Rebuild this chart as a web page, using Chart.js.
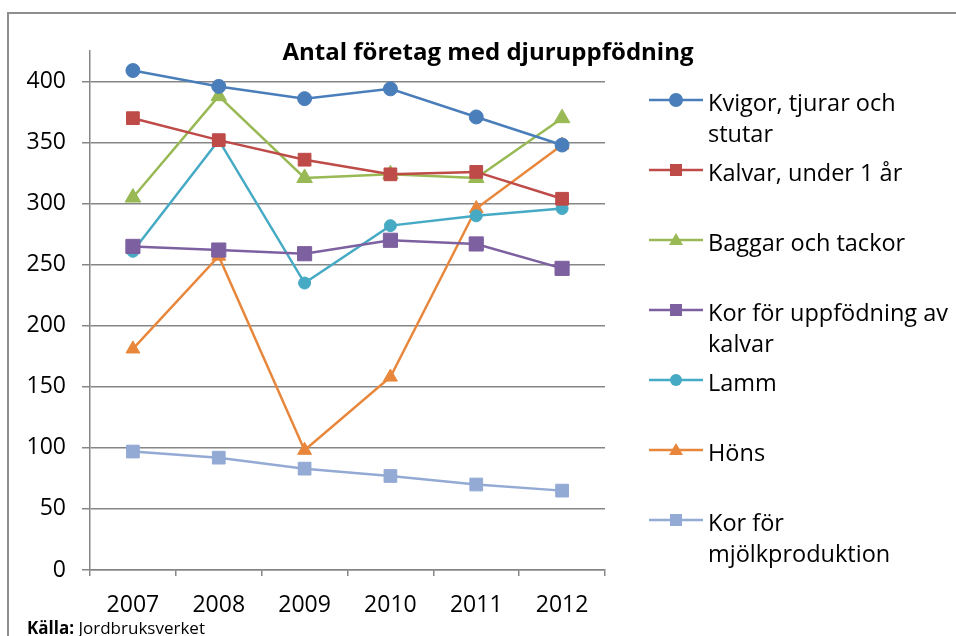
<!DOCTYPE html>
<html>
<head>
<meta charset="utf-8">
<script src="https://cdn.jsdelivr.net/npm/chart.js@4"></script>
<style>
  body { margin:0; background:#fff; font-family:"Open Sans", sans-serif; }
  #wrap { position:relative; width:956px; height:636px; overflow:hidden; }
  #frame { position:absolute; left:7px; top:12px; width:1000px; height:700px; border:2px solid #8e8e8e; }
  #chart { position:absolute; left:0; top:0; }
  #title { position:absolute; left:488px; top:34px; transform:translateX(-50%); font-weight:bold; font-size:24px; white-space:nowrap; color:#000; }
  #legend { position:absolute; left:0; top:0; }
  .item { position:absolute; left:649px; font-size:23.5px; line-height:31px; color:#000; }
  .item svg { position:absolute; left:0; top:0; }
  .item span { position:absolute; left:59px; top:2px; white-space:nowrap; }
  #src { position:absolute; left:27px; top:616px; font-size:17px; color:#000; white-space:nowrap; }
</style>
</head>
<body>
<div id="wrap">
  <div id="frame"></div>
  <canvas id="chart" width="956" height="636"></canvas>
  <div id="title">Antal företag med djuruppfödning</div>
  <div id="legend"></div>
  <div id="src"><b>Källa:</b> Jordbruksverket</div>
</div>
<script>
var years = ['2007','2008','2009','2010','2011','2012'];
var names = [
  ['Kvigor, tjurar och','stutar'],
  ['Kalvar, under 1 år'],
  ['Baggar och tackor'],
  ['Kor för uppfödning av','kalvar'],
  ['Lamm'],
  ['Höns'],
  ['Kor för','mjölkproduktion']
];
var kvigor  = [409, 396, 386, 394, 371, 348];
var kalvar  = [370, 352, 336, 324, 326, 304];
var baggar  = [305, 388, 321, 324, 321, 370];
var korUppf = [265, 262, 259, 270, 267, 247];
var lamm    = [261, 352, 235, 282, 290, 296];
var hons    = [181, 257, 98, 158, 296, 348];
var korMjolk = [97, 92, 83, 77, 70, 65];

var series = [kvigor, kalvar, baggar, korUppf, lamm, hons, korMjolk];
var colors = ['#4A7EBB','#BE4B48','#98B954','#7D60A0','#46AAC5','#E8873B','#93AAD4'];
var shapes = ['circle','rect','triangle','rect','circle','triangle','rect'];
var radii  = [7, 9, 9, 10, 6, 8, 9];

var datasets = series.map(function(d, i){
  return {
    label: names[i].join(' '),
    data: d,
    borderColor: colors[i],
    backgroundColor: colors[i],
    pointBackgroundColor: colors[i],
    pointBorderColor: colors[i],
    pointStyle: shapes[i],
    pointRadius: radii[i],
    pointBorderWidth: 1,
    borderWidth: 2.5,
    tension: 0
  };
});

new Chart(document.getElementById('chart'), {
  type: 'line',
  data: { labels: years, datasets: datasets },
  options: {
    responsive: false,
    animation: false,
    layout: { padding: { left: 0, top: 51, right: 351, bottom: 0 } },
    plugins: { legend: { display: false }, title: { display: false }, tooltip: { enabled: false } },
    scales: {
      x: {
        offset: true,
        grid: { offset: true, drawOnChartArea: false, drawTicks: true, tickLength: 6, color: '#868686', lineWidth: 1.5 },
        border: { color: '#868686', width: 1.5 },
        ticks: { color: '#000', font: { family: 'Open Sans', size: 23 }, padding: 16, maxRotation: 0 },
        afterFit: function(s){ s.height = 66; }
      },
      y: {
        min: 0, max: 425,
        grid: { color: '#868686', lineWidth: 1.5, tickLength: 8 },
        border: { color: '#868686', width: 1.5 },
        ticks: { stepSize: 50, color: '#000', font: { family: 'Open Sans', size: 23 }, padding: 16 },
        afterBuildTicks: function(s){ s.ticks = s.ticks.filter(function(t){ return t.value % 50 === 0; }); },
        afterFit: function(s){ s.width = 90; }
      }
    }
  }
});

// legend drawn as HTML so the labels wrap like the original
var legendY = [100, 170, 240, 310, 380, 450, 520];
var legend = document.getElementById('legend');
names.forEach(function(lines, i){
  var c = colors[i];
  var mk;
  if (shapes[i] === 'circle') mk = '<circle cx="27" cy="15" r="' + (radii[i]) + '" fill="' + c + '"/>';
  else if (shapes[i] === 'rect') mk = '<rect x="21" y="9" width="12" height="12" fill="' + c + '"/>';
  else mk = '<polygon points="27,8 34,20 20,20" fill="' + c + '"/>';
  var el = document.createElement('div');
  el.className = 'item';
  el.style.top = (legendY[i] - 15) + 'px';
  el.innerHTML = '<svg width="54" height="30"><line x1="0" y1="15" x2="54" y2="15" stroke="' + c + '" stroke-width="2.5"/>' + mk + '</svg>' +
    '<span>' + lines.join('<br>') + '</span>';
  legend.appendChild(el);
});
</script>
</body>
</html>
